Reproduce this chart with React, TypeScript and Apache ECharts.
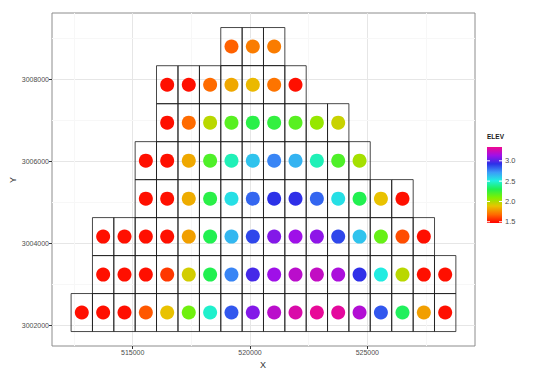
import React, { useEffect, useRef } from "react";
import * as echarts from "echarts";

// Grid-point coordinates
const COL_X = [
  512830, 513740, 514650, 515560, 516470, 517390, 518300, 519210, 520120,
  521030, 521940, 522850, 523760, 524670, 525580, 526500, 527410, 528320,
];
const ROW_Y = [3002320, 3003245, 3004170, 3005095, 3006020, 3006945, 3007870, 3008800];
const ROW_START = [0, 1, 1, 3, 3, 4, 4, 7];

const ELEV_ROW_0 = [1.5, 1.5, 1.5, 1.64, 1.88, 2.13, 2.48, 2.85, 3.08, 3.2, 3.28, 3.32, 3.31, 3.18, 2.85, 2.32, 1.8, 1.5];
const ELEV_ROW_1 = [1.5, 1.5, 1.5, 1.58, 1.93, 2.3, 2.76, 2.97, 3.13, 3.2, 3.22, 3.16, 2.93, 2.52, 1.98, 1.5, 1.5];
const ELEV_ROW_2 = [1.5, 1.5, 1.5, 1.5, 1.8, 2.3, 2.65, 2.88, 3.08, 3.13, 3.1, 2.88, 2.62, 2.15, 1.62, 1.5];
const ELEV_ROW_3 = [1.5, 1.5, 1.83, 2.28, 2.55, 2.82, 2.92, 2.93, 2.82, 2.55, 2.3, 1.88, 1.5];
const ELEV_ROW_4 = [1.5, 1.5, 1.82, 2.2, 2.45, 2.62, 2.76, 2.66, 2.45, 2.2, 2.02];
const ELEV_ROW_5 = [1.5, 1.68, 1.98, 2.18, 2.28, 2.26, 2.18, 2.05, 1.95];
const ELEV_ROW_6 = [1.5, 1.5, 1.68, 1.82, 1.86, 1.7, 1.5];
const ELEV_ROW_7 = [1.66, 1.72, 1.72];
const ELEV_ROWS = [ELEV_ROW_0, ELEV_ROW_1, ELEV_ROW_2, ELEV_ROW_3, ELEV_ROW_4, ELEV_ROW_5, ELEV_ROW_6, ELEV_ROW_7];

const CELL_W = 911;
const CELL_H = 926;

const X_TICKS = [515000, 520000, 525000];
const Y_TICKS = [3002000, 3004000, 3006000, 3008000];
const X_MINOR = [512500, 517500, 522500, 527500];
const Y_MINOR = [3003000, 3005000, 3007000, 3009000];
const LEGEND_TICKS = [1.5, 2.0, 2.5, 3.0];

const ELEV_MIN = 1.47;
const ELEV_MAX = 3.34;
const COLOR_STOPS = [
  "#FF0000", "#FF6A00", "#E8C400", "#80F000", "#20F050",
  "#20F0E0", "#3C9CF8", "#2C30E8", "#A010E8", "#F00890",
];

const FONT = "Liberation Sans, Arial, sans-serif";

export default function App() {
  const ref = useRef<HTMLDivElement>(null);

  useEffect(() => {
    if (!ref.current) return;
    const chart = echarts.init(ref.current, null, { renderer: "svg" });

    const points: number[][] = [];
    ELEV_ROWS.forEach((row, r) => {
      row.forEach((v, i) => {
        points.push([COL_X[ROW_START[r] + i], ROW_Y[r], v]);
      });
    });

    const barX = 487, barY = 147, barW = 15, barH = 76;
    const valToY = (v: number) => barY + ((ELEV_MAX - v) / (ELEV_MAX - ELEV_MIN)) * barH;
    const gradStops = COLOR_STOPS.map((c, i) => ({
      offset: 1 - i / (COLOR_STOPS.length - 1),
      color: c,
    })).reverse();

    const legendGraphics: any[] = [
      {
        type: "text",
        left: barX,
        top: 133,
        style: { text: "ELEV", fontSize: 6.5, fontWeight: "bold", fill: "#1a1a1a", fontFamily: FONT },
      },
      {
        type: "rect",
        shape: { x: barX, y: barY, width: barW, height: barH },
        style: {
          fill: { type: "linear", x: 0, y: 0, x2: 0, y2: 1, colorStops: gradStops },
        },
      },
    ];
    LEGEND_TICKS.forEach((t) => {
      const y = valToY(t);
      legendGraphics.push(
        { type: "line", shape: { x1: barX, y1: y, x2: barX + 3, y2: y }, style: { stroke: "#fff", lineWidth: 1 } },
        { type: "line", shape: { x1: barX + barW - 3, y1: y, x2: barX + barW, y2: y }, style: { stroke: "#fff", lineWidth: 1 } },
        {
          type: "text",
          x: barX + barW + 3,
          y,
          style: { text: t.toFixed(1), fontSize: 7.5, fill: "#4d4d4d", fontFamily: FONT, verticalAlign: "middle", align: "left" },
        }
      );
    });

    const majorLines = [
      ...X_TICKS.map((v) => ({ xAxis: v })),
      ...Y_TICKS.map((v) => ({ yAxis: v })),
    ];
    const minorLines = [
      ...X_MINOR.map((v) => ({ xAxis: v })),
      ...Y_MINOR.map((v) => ({ yAxis: v })),
    ];

    chart.setOption({
      animation: false,
      backgroundColor: "#ffffff",
      grid: {
        left: 52,
        right: 65,
        top: 13,
        bottom: 31,
        show: true,
        borderColor: "#8c8c8c",
        borderWidth: 1,
        backgroundColor: "transparent",
        z: 0,
      },
      xAxis: {
        type: "value",
        min: 511560,
        max: 529591,
        axisLine: { show: false },
        splitLine: { show: false },
        axisTick: { show: true, length: 3, lineStyle: { color: "#333" }, customValues: X_TICKS },
        axisLabel: {
          customValues: X_TICKS,
          fontSize: 7,
          color: "#4d4d4d",
          fontFamily: FONT,
          margin: 3,
          formatter: (v: number) => String(v),
        },
      },
      yAxis: {
        type: "value",
        min: 3001505,
        max: 3009617,
        axisLine: { show: false },
        splitLine: { show: false },
        axisTick: { show: true, length: 3, lineStyle: { color: "#333" }, customValues: Y_TICKS },
        axisLabel: {
          customValues: Y_TICKS,
          fontSize: 7,
          color: "#4d4d4d",
          fontFamily: FONT,
          margin: 3,
          formatter: (v: number) => String(v),
        },
      },
      visualMap: {
        show: false,
        type: "continuous",
        min: ELEV_MIN,
        max: ELEV_MAX,
        dimension: 2,
        seriesIndex: 1,
        inRange: { color: COLOR_STOPS },
      },
      graphic: [
        {
          type: "text",
          x: 263,
          y: 365,
          style: { text: "X", fontSize: 9, fill: "#333", fontFamily: FONT, align: "center", verticalAlign: "middle" },
        },
        {
          type: "text",
          x: 13,
          y: 180,
          rotation: Math.PI / 2,
          style: { text: "Y", fontSize: 9, fill: "#333", fontFamily: FONT, align: "center", verticalAlign: "middle" },
        },
        ...legendGraphics,
      ],
      series: [
        {
          type: "custom",
          z: 3,
          data: points,
          encode: { x: 0, y: 1 },
          renderItem: (_params: any, api: any) => {
            const x = api.value(0);
            const y = api.value(1);
            const p1 = api.coord([x - CELL_W / 2, y + CELL_H / 2]);
            const p2 = api.coord([x + CELL_W / 2, y - CELL_H / 2]);
            return {
              type: "rect",
              shape: { x: p1[0], y: p1[1], width: p2[0] - p1[0], height: p2[1] - p1[1] },
              style: { fill: "none", stroke: "#1a1a1a", lineWidth: 0.8 },
            };
          },
          markLine: {
            silent: true,
            z: 1,
            symbol: ["none", "none"],
            label: { show: false },
            lineStyle: { color: "#e6e6e6", type: "solid", width: 1 },
            data: majorLines,
          },
        },
        {
          type: "scatter",
          z: 4,
          symbol: "circle",
          symbolSize: 14,
          itemStyle: { opacity: 1 },
          data: points,
          encode: { x: 0, y: 1 },
          markLine: {
            silent: true,
            z: 1,
            symbol: ["none", "none"],
            label: { show: false },
            lineStyle: { color: "#f7f7f7", type: "solid", width: 1 },
            data: minorLines,
          },
        },
      ],
    });

    return () => chart.dispose();
  }, []);

  return (
    <div
      ref={ref}
      style={{ position: "fixed", left: 0, top: 0, width: 540, height: 377 }}
    />
  );
}
